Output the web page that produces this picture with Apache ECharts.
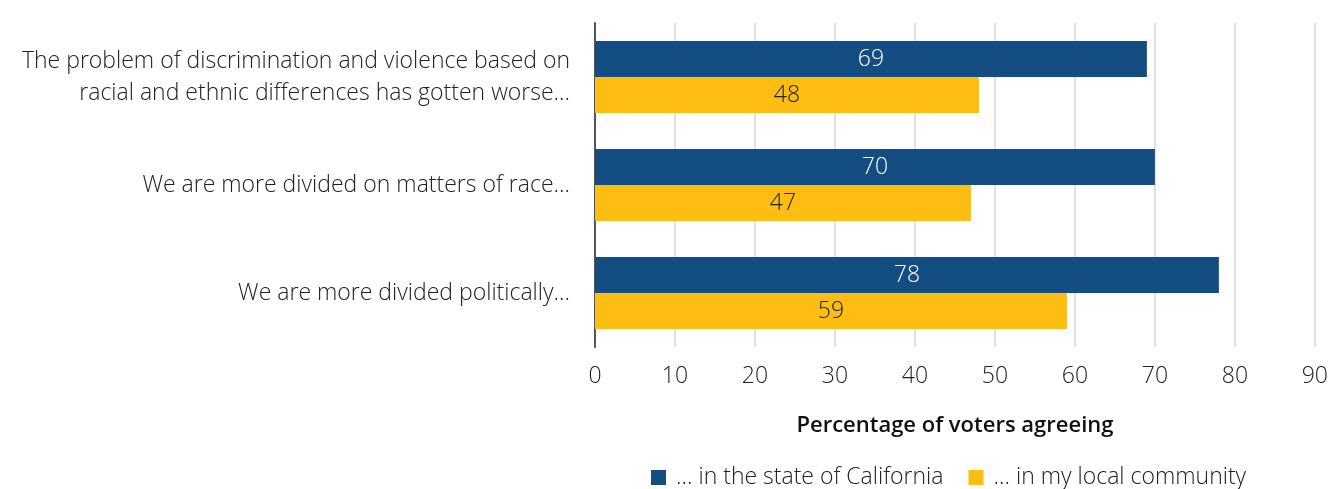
<!DOCTYPE html>
<html><head><meta charset="utf-8">
<script src="https://cdn.jsdelivr.net/npm/echarts@6/dist/echarts.min.js"></script>
<style>html,body{margin:0;padding:0;background:#fff}#c{width:1331px;height:489px}</style>
</head><body><div id="c"></div>
<script>
const categories = [
  "The problem of discrimination and violence based on\nracial and ethnic differences has gotten worse…",
  "We are more divided on matters of race…",
  "We are more divided politically…"
];
const seriesNames = ["… in the state of California", "… in my local community"];
const stateValues = [69, 70, 78];
const localValues = [48, 47, 59];
const xTicks = { min: 0, max: 90, interval: 10 };

const font = "Open Sans";
const fs = 23;
const chart = echarts.init(document.getElementById('c'));
chart.setOption({
  animation: false,
  textStyle: { fontFamily: font },
  grid: { left: 595, right: 16, top: 23, bottom: 142, containLabel: false },
  legend: {
    left: 651, top: 466, padding: 0,
    itemWidth: 15, itemHeight: 15, itemGap: 25,
    icon: 'rect',
    textStyle: { fontFamily: font, fontSize: fs, fontWeight: 300, color: '#222', padding: [0,0,0,5] },
    data: seriesNames
  },
  xAxis: {
    type: 'value', min: xTicks.min, max: xTicks.max, interval: xTicks.interval,
    name: 'Percentage of voters agreeing', nameLocation: 'middle', nameGap: 68,
    nameTextStyle: { fontFamily: font, fontSize: 22, fontWeight: 600, color: '#111' },
    axisLine: { show: false }, axisTick: { show: false },
    axisLabel: { fontFamily: font, fontSize: fs, fontWeight: 300, color: '#222', margin: 18 },
    splitLine: { show: true, lineStyle: { color: '#e0e0e0', width: 2 } }
  },
  yAxis: {
    type: 'category', inverse: true, data: categories,
    axisLine: { show: true, lineStyle: { color: '#555', width: 2 } },
    axisTick: { show: false },
    axisLabel: { fontFamily: font, fontSize: fs, fontWeight: 300, color: '#222', margin: 25, align: 'right', lineHeight: 32 }
  },
  series: [
    { name: seriesNames[0], type: 'bar', data: stateValues, barGap: '0%', barCategoryGap: '33.3%',
      itemStyle: { color: '#144d82' },
      label: { show: true, position: 'inside', color: '#fff', fontFamily: font, fontSize: fs, fontWeight: 300 } },
    { name: seriesNames[1], type: 'bar', data: localValues,
      itemStyle: { color: '#fdbd12' },
      label: { show: true, position: 'inside', color: '#222', fontFamily: font, fontSize: fs, fontWeight: 300 } }
  ]
});
</script></body></html>
